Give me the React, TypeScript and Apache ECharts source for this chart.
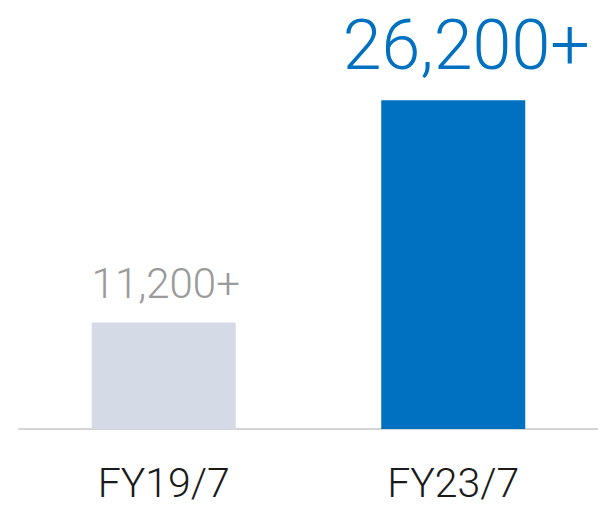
import React, { useEffect, useRef } from "react";
import * as echarts from "echarts";

const categories = ["FY19/7", "FY23/7"];
const values = [11200, 26200];
const valueLabels = ["11,200+", "26,200+"];
const barColors = ["#d5dae7", "#0070c0"];
const labelColors = ["#9a9a9a", "#0070c0"];
const labelSizes = [42, 70];
const FONT = "Roboto, Liberation Sans, Arial, sans-serif";

export default function App() {
  const ref = useRef<HTMLDivElement>(null);
  useEffect(() => {
    document.body.style.margin = "0";
    const chart = echarts.init(ref.current!, null, { renderer: "svg" });
    chart.setOption({
      animation: false,
      grid: { left: 19, right: 0, top: 44, bottom: 76 },
      xAxis: {
        type: "category",
        data: categories,
        axisLine: { show: true, lineStyle: { color: "#d4d4d4", width: 2 } },
        axisTick: { show: false },
        axisLabel: {
          color: "#1a1a1a",
          fontSize: 41,
          fontWeight: 300,
          fontFamily: FONT,
          lineHeight: 41,
          margin: 33,
        },
      },
      yAxis: {
        type: "value",
        min: 4000,
        max: 30000,
        show: false,
        splitLine: { show: false },
      },
      series: [
        {
          type: "bar",
          barWidth: 144,
          data: values.map((v, i) => ({
            value: v,
            itemStyle: { color: barColors[i] },
            label: {
              show: true,
              position: "top",
              formatter: valueLabels[i],
              color: labelColors[i],
              fontSize: labelSizes[i],
              fontWeight: 300,
              fontFamily: FONT,
              distance: i === 0 ? 18 : 20,
              offset: i === 0 ? [2, 0] : [13, 0],
            },
          })),
        },
      ],
    });
    return () => chart.dispose();
  }, []);
  return <div ref={ref} style={{ width: 598, height: 505 }} />;
}
